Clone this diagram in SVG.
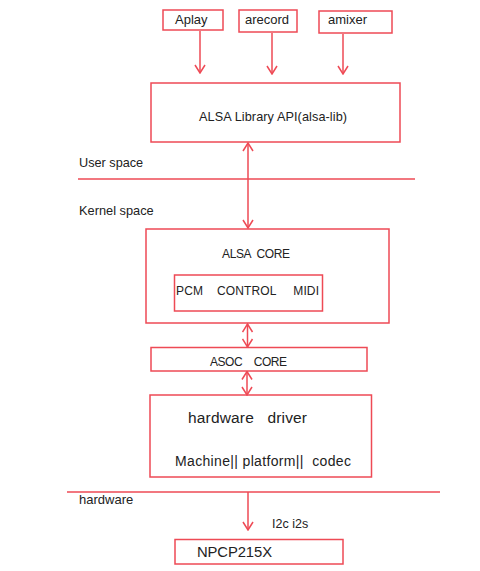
<svg xmlns="http://www.w3.org/2000/svg" width="480" height="571" viewBox="0 0 480 571">
<style>
.box{fill:none;stroke:#ee4a55;stroke-width:1.5}
.ln{fill:none;stroke:#ee4a55;stroke-width:1.5}
text{font-family:"Liberation Sans",Arial,sans-serif;fill:#222;white-space:pre}
</style>
<defs>
<marker id="ah" viewBox="-1 -6 10 12" refX="8" refY="0" markerWidth="10" markerHeight="12" markerUnits="userSpaceOnUse" orient="auto-start-reverse">
<path d="M0,-5 L8,0 L0,5" fill="none" stroke="#ee4a55" stroke-width="1.5"/>
</marker>
</defs>
<rect width="480" height="571" fill="#fff"/>
<line class="ln" x1="78" y1="179" x2="415" y2="179"/>
<line class="ln" x1="67" y1="492" x2="440" y2="492"/>
<text x="79" y="167" font-size="12.7">User space</text>
<text x="79" y="215" font-size="12.8">Kernel space</text>
<text x="79" y="504" font-size="13">hardware</text>
<text x="272" y="528" font-size="12.5">I2c i2s</text>
<g id="aplay"><rect class="box" x="163" y="10" width="60" height="20"/><text x="175" y="24" font-size="13">Aplay</text></g>
<g id="arecord"><rect class="box" x="239" y="10" width="58" height="22"/><text x="245" y="24" font-size="13">arecord</text></g>
<g id="amixer"><rect class="box" x="319" y="11" width="73" height="22"/><text x="328" y="24" font-size="13">amixer</text></g>
<g id="alsa-lib"><rect class="box" x="151" y="83" width="249" height="59"/><text x="199" y="121" font-size="12.7" textLength="148">ALSA Library API(alsa-lib)</text></g>
<g id="alsa-core"><rect class="box" x="146" y="229" width="243" height="94"/><text x="222" y="258" font-size="12" textLength="68" xml:space="preserve">ALSA  CORE</text>
<g id="pcm-control-midi"><rect class="box" x="174.5" y="275" width="148" height="36"/><text x="176" y="295" font-size="12" textLength="143" xml:space="preserve">PCM    CONTROL     MIDI</text></g></g>
<g id="asoc-core"><rect class="box" x="151" y="347.5" width="216" height="23.5"/><text x="210" y="366" font-size="12" textLength="77" xml:space="preserve">ASOC    CORE</text></g>
<g id="hardware-driver"><rect class="box" x="150" y="395" width="221.5" height="82"/><text x="188" y="423" font-size="15.5" textLength="119" xml:space="preserve">hardware   driver</text><text x="175" y="466" font-size="14" textLength="176" xml:space="preserve">Machine|| platform||  codec</text></g>
<g id="npcp215x"><rect class="box" x="175" y="539.5" width="168" height="24.5"/><text x="197" y="557" font-size="14.8" textLength="75">NPCP215X</text></g>
<g id="connectors">
<line class="ln" x1="200" y1="31" x2="200" y2="73" marker-end="url(#ah)"/>
<line class="ln" x1="272" y1="33" x2="272" y2="74" marker-end="url(#ah)"/>
<line class="ln" x1="343" y1="34" x2="343" y2="74" marker-end="url(#ah)"/>
<line class="ln" x1="248" y1="143" x2="248" y2="228" marker-start="url(#ah)" marker-end="url(#ah)"/>
<line class="ln" x1="247.5" y1="324" x2="247.5" y2="347" marker-start="url(#ah)" marker-end="url(#ah)"/>
<line class="ln" x1="247" y1="371.5" x2="247" y2="395" marker-start="url(#ah)" marker-end="url(#ah)"/>
<line class="ln" x1="248" y1="492" x2="248" y2="530" marker-end="url(#ah)"/>
</g>
</svg>
